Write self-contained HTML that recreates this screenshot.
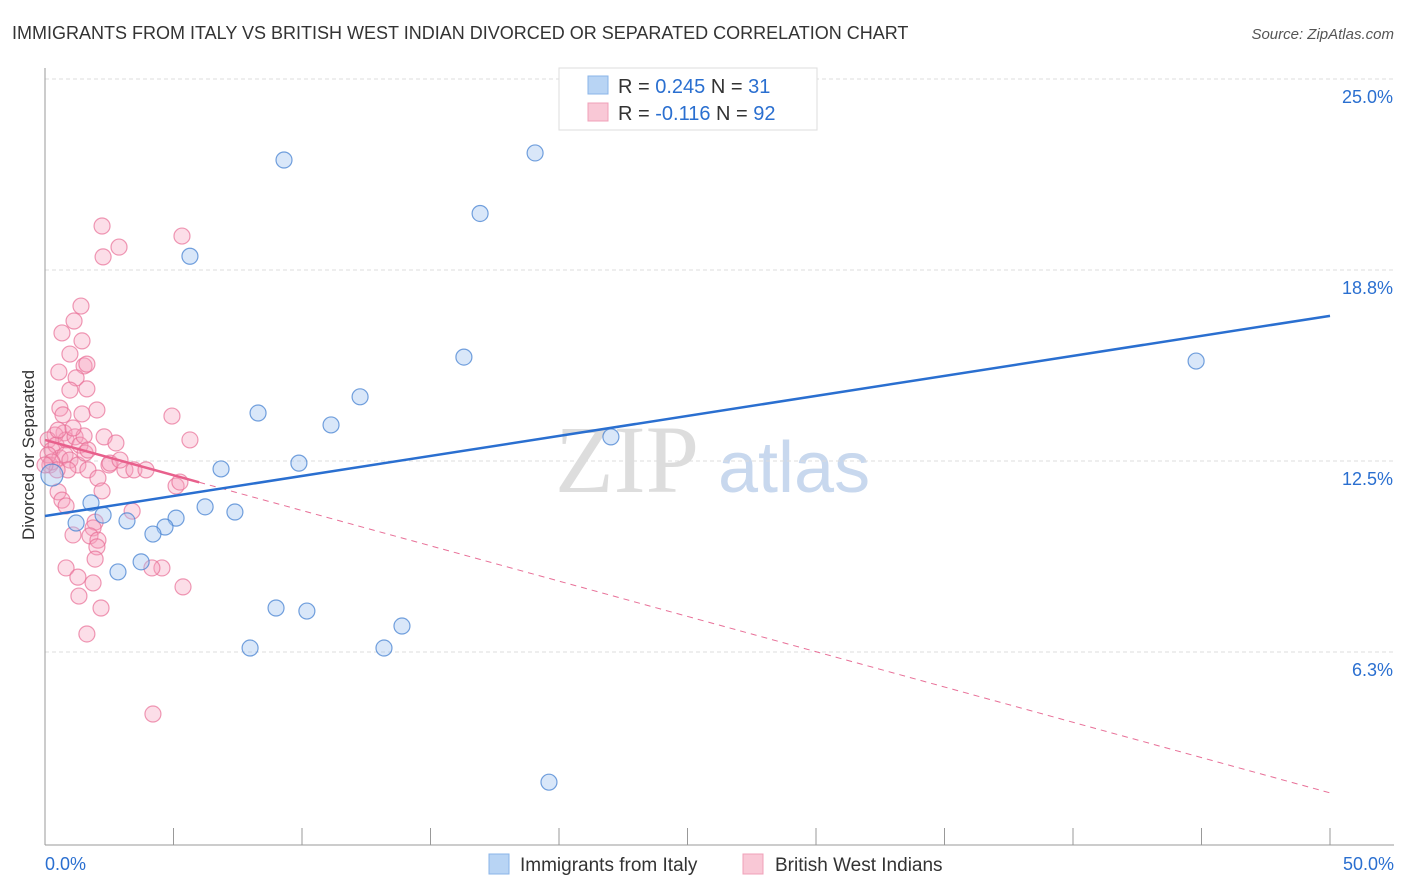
<!DOCTYPE html>
<html><head><meta charset="utf-8"><style>
body{margin:0;background:#fff;font-family:"Liberation Sans",sans-serif}
svg{display:block}
</style></head><body>
<svg id="chart" width="1406" height="892" xmlns="http://www.w3.org/2000/svg">
<text x="12" y="39" font-size="18" fill="#333">IMMIGRANTS FROM ITALY VS BRITISH WEST INDIAN DIVORCED OR SEPARATED CORRELATION CHART</text>
<text x="1394" y="39" font-size="15" fill="#555" text-anchor="end" font-style="italic">Source: ZipAtlas.com</text>
<text x="34" y="455" font-size="17" fill="#333" text-anchor="middle" transform="rotate(-90 34 455)">Divorced or Separated</text>
<text x="555" y="492" font-size="96" fill="#ddd" font-family="Liberation Serif">ZIP</text>
<text x="718" y="492" font-size="72" fill="#c8d8ee">atlas</text>
<g id="grid"></g><g id="axes"></g><g id="marks"></g>
<g>
<rect x="559" y="68" width="258" height="62" fill="#fff" stroke="#ddd"/>
<rect x="588" y="76" width="20" height="18" fill="#b8d4f4" stroke="#8ab4e8"/>
<rect x="588" y="103" width="20" height="18" fill="#f9c8d6" stroke="#f0a0b8"/>
<text x="618" y="93" font-size="20" fill="#333">R = <tspan fill="#2a6fd0">0.245</tspan>   N =  <tspan fill="#2a6fd0">31</tspan></text>
<text x="618" y="120" font-size="20" fill="#333">R = <tspan fill="#2a6fd0">-0.116</tspan>   N = <tspan fill="#2a6fd0">92</tspan></text>
</g>
<g>
<rect x="489" y="854" width="20" height="20" fill="#b8d4f4" stroke="#8ab4e8"/>
<text x="520" y="871" font-size="19" fill="#333">Immigrants from Italy</text>
<rect x="743" y="854" width="20" height="20" fill="#f9c8d6" stroke="#f0a0b8"/>
<text x="775" y="871" font-size="19" fill="#333">British West Indians</text>
</g>
</svg>
<script>
const yTicks=[6.25,12.5,18.75,25];
const yTickLabels=["6.3%","12.5%","18.8%","25.0%"];
const xTickLabels=["0.0%","50.0%"];
const italyX=[9.30,19.07,16.93,5.64,16.30,44.79,8.29,12.26,11.13,22.02,9.88,6.85,6.23,7.39,1.79,2.26,1.21,3.19,5.10,4.67,4.20,3.74,2.84,8.99,10.19,13.89,7.98,13.19,19.61,0.27];
const italyY=[22.35,22.58,20.6,19.2,15.9,15.77,14.07,14.6,13.68,13.29,12.43,12.24,11.0,10.83,11.13,10.73,10.47,10.54,10.63,10.34,10.11,9.2,8.87,7.69,7.59,7.1,6.38,6.38,1.99,12.04];
const bwiX=[2.22,5.33,2.88,2.26,1.40,0.66,1.13,1.44,0.97,1.52,1.63,0.54,1.21,0.97,1.63,2.02,0.58,0.70,1.44,4.94,0.74,0.39,0.12,0.19,0.27,0.43,0.82,1.17,1.36,1.52,2.30,2.76,5.64,0.58,0.78,0.97,1.28,1.67,2.49,3.11,3.46,3.93,5.10,5.25,2.06,2.22,0.51,0.66,0.82,1.95,1.87,1.09,1.75,2.06,2.02,1.95,0.82,1.28,1.87,1.32,2.18,4.55,4.16,5.37,1.63,4.20,3.39,2.53,2.92,1.56,0.89,0.12,0.27,0.51,1.09,1.67,0.47,0];
const bwiY=[20.19,19.86,19.5,19.18,17.57,16.69,17.08,16.43,16.0,15.61,15.67,15.41,15.22,14.82,14.86,14.17,14.23,14.01,14.04,13.97,13.42,13.35,13.19,12.37,12.86,13.02,13.19,13.29,13.02,13.32,13.29,13.09,13.19,12.6,12.7,12.53,12.37,12.21,12.37,12.21,12.21,12.21,11.68,11.81,11.94,11.52,11.49,11.22,11.03,10.5,10.31,10.08,10.05,9.91,9.69,9.29,9.0,8.7,8.51,8.08,7.69,9.0,9.0,8.38,6.84,4.22,10.86,12.43,12.53,12.76,12.21,12.7,12.47,13.51,13.58,12.86,12.21,12.37];
const italyTrend=[10.7,17.25];
const bwiTrend=[13.19,1.64];
const bwiSolidEnd=6.0;
const NS="http://www.w3.org/2000/svg";
const X=v=>45+v/50*1285, Y=v=>843-v*30.56;
function mk(t,a,p){const e=document.createElementNS(NS,t);for(const k in a)e.setAttribute(k,a[k]);p.appendChild(e);return e;}
const grid=document.getElementById('grid'),axes=document.getElementById('axes'),marks=document.getElementById('marks');
yTicks.forEach((t,i)=>{
 const l=mk('line',{x1:45,x2:1394,y1:Y(t),y2:Y(t),stroke:'#ddd','stroke-dasharray':'4 3'},grid);
 
 
 const tx=mk('text',{x:1393,y:Y(t)+24,'font-size':18,fill:'#2a6fd0','text-anchor':'end'},axes);
 tx.textContent=yTickLabels[i];
 
 
});
const ya=mk('line',{x1:45,x2:45,y1:68,y2:845,stroke:'#999'},axes);


const xa=mk('line',{x1:45,x2:1394,y1:845,y2:845,stroke:'#999'},axes);


for(let i=0;i<=10;i++){const t=mk('line',{x1:X(i*5),x2:X(i*5),y1:828,y2:845,stroke:'#999'},axes);
 
 }
[[0,'start',45],[1,'end',1394]].forEach(([i,a,x])=>{const t=mk('text',{x:x,y:870,'font-size':18,fill:'#2a6fd0','text-anchor':a},axes);t.textContent=xTickLabels[i];
 
 });
bwiX.forEach((x,i)=>{const c=mk('circle',{cx:X(x),cy:Y(bwiY[i]),r:8,fill:'rgba(246,160,188,0.35)',stroke:'rgba(232,110,150,0.7)','stroke-width':1.2},marks);
 
 });
italyX.forEach((x,i)=>{const c=mk('circle',{cx:X(x),cy:Y(italyY[i]),r:x<1?11:8,fill:'rgba(160,196,240,0.4)',stroke:'rgba(70,130,210,0.75)','stroke-width':1.2},marks);
 
 });
const bt=v=>bwiTrend[0]+(bwiTrend[1]-bwiTrend[0])*v/50;
const d=mk('line',{x1:X(bwiSolidEnd),y1:Y(bt(bwiSolidEnd)),x2:X(50),y2:Y(bt(50)),stroke:'#e87098','stroke-width':1,'stroke-dasharray':'6 5'},marks);


const s=mk('line',{x1:X(0),y1:Y(bt(0)),x2:X(bwiSolidEnd),y2:Y(bt(bwiSolidEnd)),stroke:'#e8608c','stroke-width':2.5},marks);


const it=mk('line',{x1:X(0),y1:Y(italyTrend[0]),x2:X(50),y2:Y(italyTrend[1]),stroke:'#2a6fd0','stroke-width':2.5},marks);


</script>
</body></html>
